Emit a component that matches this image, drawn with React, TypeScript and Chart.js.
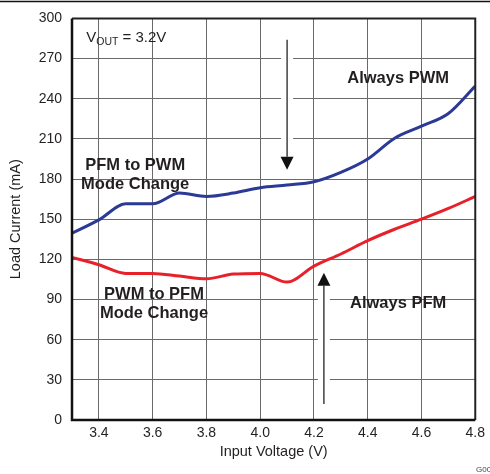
import React, { useEffect, useRef } from "react";
import { Chart, registerables } from "chart.js";

Chart.register(...registerables);

const voltages = [3.3, 3.4, 3.5, 3.6, 3.7, 3.8, 3.9, 4.0, 4.1, 4.2, 4.3, 4.4, 4.5, 4.6, 4.7, 4.8];
const pfmToPwm = [139.5, 149.5, 161.5, 161.5, 169.5, 167, 169.5, 173.5, 175.5, 178, 185, 195, 210.5, 219.5, 229, 249.5];
const pwmToPfm = [121.5, 116, 109.5, 109.5, 107.5, 105.5, 109, 109.5, 103, 115, 124, 134, 142.5, 150, 158, 167];

const xTickValues = [3.4, 3.6, 3.8, 4.0, 4.2, 4.4, 4.6, 4.8];
const xTickLabels = ["3.4", "3.6", "3.8", "4.0", "4.2", "4.4", "4.6", "4.8"];
const yTickValues = [0, 30, 60, 90, 120, 150, 180, 210, 240, 270, 300];
const yTickLabels = ["0", "30", "60", "90", "120", "150", "180", "210", "240", "270", "300"];

const xTitle = "Input Voltage (V)";
const yTitle = "Load Current (mA)";
const figId = "G00";

// annotations in data units
const textNotes = [
  { lines: ["PFM to PWM", "Mode Change"], x: 3.535, y: 190, gap: 19 },
  { lines: ["PWM to PFM", "Mode Change"], x: 3.605, y: 94, gap: 19 },
  { lines: ["Always PWM"], x: 4.513, y: 255, gap: 0 },
  { lines: ["Always PFM"], x: 4.513, y: 87, gap: 0 },
];
const arrows = [
  { x: 4.1, from: 284, to: 187 },
  { x: 4.237, from: 12, to: 110 },
];
const vout = { x: 3.353, y: 287 };

const FONT = "'Liberation Sans', Arial, Helvetica, sans-serif";

const decor = {
  id: "decor",
  afterDatasetsDraw(chart: any) {
    const { ctx, chartArea, scales } = chart;
    const xs = scales.x;
    const ys = scales.y;
    ctx.save();
    // top rule of the page
    ctx.strokeStyle = "#111";
    ctx.lineWidth = 1.5;
    ctx.beginPath();
    ctx.moveTo(0, 1.5);
    ctx.lineTo(490, 1.5);
    ctx.stroke();

    // plot frame
    ctx.strokeStyle = "#222";
    ctx.lineWidth = 2;
    ctx.beginPath();
    ctx.moveTo(chartArea.left, chartArea.top);
    ctx.lineTo(chartArea.right, chartArea.top);
    ctx.lineTo(chartArea.right, chartArea.bottom);
    ctx.stroke();
    ctx.lineWidth = 2.5;
    ctx.strokeStyle = "#111";
    ctx.beginPath();
    ctx.moveTo(chartArea.left, chartArea.top);
    ctx.lineTo(chartArea.left, chartArea.bottom);
    ctx.lineTo(chartArea.right, chartArea.bottom);
    ctx.stroke();

    // arrows
    arrows.forEach((a) => {
      const px = xs.getPixelForValue(a.x);
      const y0 = ys.getPixelForValue(a.from);
      const y1 = ys.getPixelForValue(a.to);
      const dir = y1 > y0 ? 1 : -1;
      const headLen = 13;
      const headHalf = 6.5;
      ctx.strokeStyle = "#fff";
      ctx.lineWidth = 12;
      ctx.beginPath();
      ctx.moveTo(px, y0);
      ctx.lineTo(px, y1);
      ctx.stroke();
      ctx.strokeStyle = "#111";
      ctx.lineWidth = 1.2;
      ctx.beginPath();
      ctx.moveTo(px, y0);
      ctx.lineTo(px, y1 - dir * headLen);
      ctx.stroke();
      ctx.fillStyle = "#111";
      ctx.beginPath();
      ctx.moveTo(px, y1);
      ctx.lineTo(px - headHalf, y1 - dir * headLen);
      ctx.lineTo(px + headHalf, y1 - dir * headLen);
      ctx.closePath();
      ctx.fill();
    });

    // bold notes
    ctx.fillStyle = "#231f20";
    ctx.font = `bold 16.5px ${FONT}`;
    ctx.textAlign = "center";
    ctx.textBaseline = "middle";
    textNotes.forEach((n) => {
      const px = xs.getPixelForValue(n.x);
      const py = ys.getPixelForValue(n.y);
      n.lines.forEach((l, i) => ctx.fillText(l, px, py + i * n.gap));
    });

    // VOUT label
    const vx = xs.getPixelForValue(vout.x);
    const vy = ys.getPixelForValue(vout.y);
    ctx.textAlign = "left";
    ctx.textBaseline = "alphabetic";
    ctx.font = `15px ${FONT}`;
    ctx.fillText("V", vx, vy + 6);
    let w = ctx.measureText("V").width;
    ctx.font = `10.5px ${FONT}`;
    ctx.fillText("OUT", vx + w, vy + 9);
    w += ctx.measureText("OUT").width;
    ctx.font = `15px ${FONT}`;
    ctx.fillText(" = 3.2V", vx + w, vy + 6);

    // axis titles
    ctx.fillStyle = "#231f20";
    ctx.font = `14.5px ${FONT}`;
    ctx.textAlign = "center";
    ctx.textBaseline = "middle";
    ctx.fillText(xTitle, (chartArea.left + chartArea.right) / 2, 452);
    ctx.save();
    ctx.translate(16, (chartArea.top + chartArea.bottom) / 2);
    ctx.rotate(-Math.PI / 2);
    ctx.fillText(yTitle, 0, 0);
    ctx.restore();

    // figure id
    ctx.font = `8px ${FONT}`;
    ctx.textAlign = "left";
    ctx.fillStyle = "#444";
    ctx.fillText(figId, 476, 470);
    ctx.restore();
  },
};

export default function App() {
  const ref = useRef<HTMLCanvasElement | null>(null);
  useEffect(() => {
    if (!ref.current) return;
    const chart = new Chart(ref.current, {
      type: "line",
      data: {
        datasets: [
          {
            label: "PFM to PWM",
            data: voltages.map((v, i) => ({ x: v, y: pfmToPwm[i] })),
            borderColor: "#2a3a96",
            borderWidth: 3,
            pointRadius: 0,
            cubicInterpolationMode: "monotone",
          },
          {
            label: "PWM to PFM",
            data: voltages.map((v, i) => ({ x: v, y: pwmToPfm[i] })),
            borderColor: "#e8202a",
            borderWidth: 3,
            pointRadius: 0,
            cubicInterpolationMode: "monotone",
          },
        ],
      },
      options: {
        responsive: false,
        animation: false,
        layout: { padding: { left: 0, right: 13, top: 15, bottom: 0 } },
        plugins: { legend: { display: false }, tooltip: { enabled: false } },
        scales: {
          x: {
            type: "linear",
            min: 3.3,
            max: 4.8,
            afterBuildTicks: (s: any) => {
              s.ticks = xTickValues.map((v) => ({ value: v }));
            },
            afterFit: (s: any) => {
              s.height = 54;
            },
            grid: { color: "#6a6a6a", lineWidth: 1, drawTicks: false },
            border: { display: false },
            ticks: {
              padding: 5,
              color: "#231f20",
              font: { family: FONT, size: 14 },
              callback: (v: any) => {
                const i = xTickValues.findIndex((t) => Math.abs(t - v) < 1e-6);
                return i >= 0 ? xTickLabels[i] : "";
              },
            },
          },
          y: {
            type: "linear",
            min: 0,
            max: 300,
            afterBuildTicks: (s: any) => {
              s.ticks = yTickValues.map((v) => ({ value: v }));
            },
            afterFit: (s: any) => {
              s.width = 72;
            },
            grid: { color: "#6a6a6a", lineWidth: 1, drawTicks: false },
            border: { display: false },
            ticks: {
              padding: 10,
              color: "#231f20",
              font: { family: FONT, size: 14 },
              callback: (v: any) => {
                const i = yTickValues.indexOf(v);
                return i >= 0 ? yTickLabels[i] : "";
              },
            },
          },
        },
      },
      plugins: [decor],
    } as any);
    return () => chart.destroy();
  }, []);
  return (
    <div style={{ position: "absolute", left: 0, top: 0, width: 490, height: 474, background: "#fff" }}>
      <canvas ref={ref} width={490} height={474} />
    </div>
  );
}
